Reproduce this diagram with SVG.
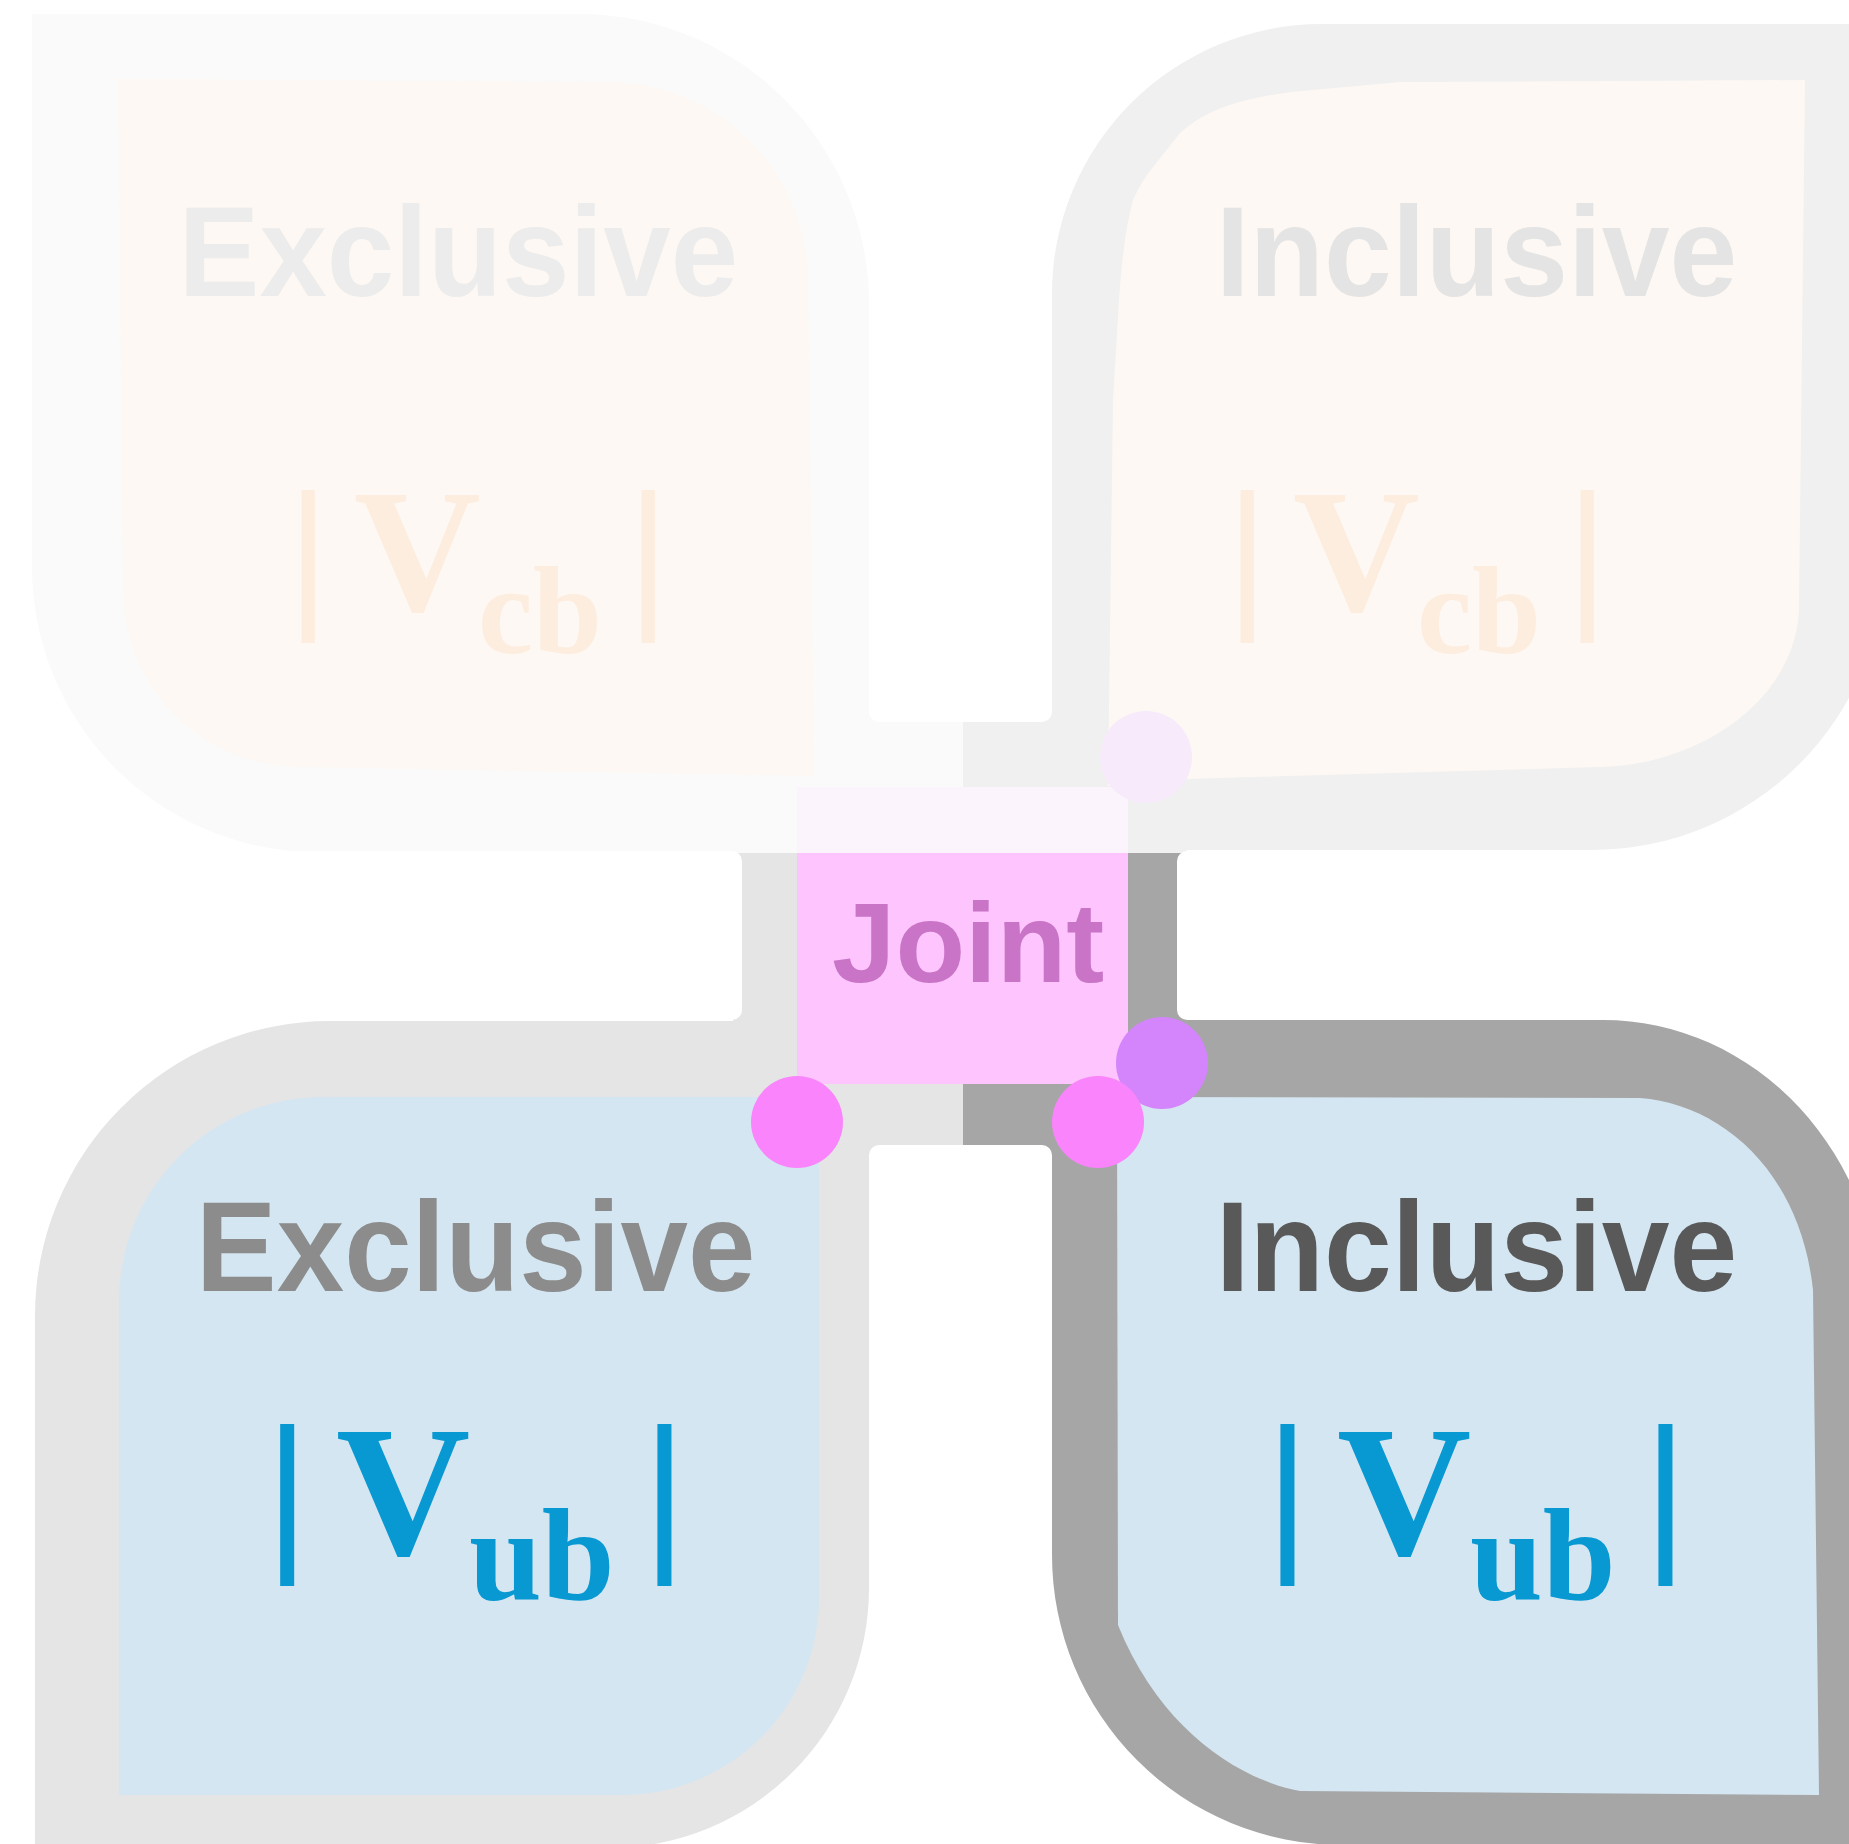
<svg xmlns="http://www.w3.org/2000/svg" width="1849" height="1844" viewBox="0 0 1849 1844">
<style>
.lbl{font-family:"Liberation Sans",Arial,sans-serif;font-weight:bold;font-size:128px}
.bar{font-family:"Liberation Sans",Arial,sans-serif;font-weight:normal}
.ser{font-family:"Liberation Serif","Times New Roman",serif;font-weight:bold}
.gap{fill:#ffffff}
.pt{stroke:none}
</style>
<rect x="0" y="0" width="1849" height="1844" fill="#ffffff"/>

<g id="node-exclusive-vcb">
<path d="M32,14 H579 A290,290 0 0 1 869,304 V852 H317 A285,285 0 0 1 32,567 Z" fill="#fafafa"/>
</g>
<g id="node-inclusive-vcb">
<path d="M1052,850 V294 A270,270 0 0 1 1322,24 H1885 V557 A293,293 0 0 1 1592,850 Z" fill="#f0f0f0"/>
</g>
<g id="node-exclusive-vub">
<path d="M35,1860 V1316 A295,295 0 0 1 330,1021 H869 V1588 A260,260 0 0 1 609,1848 V1860 Z" fill="#e5e5e5"/>
</g>
<g id="node-inclusive-vub">
<path d="M1052,1020 H1603 A278,300 0 0 1 1881,1320 V1860 H1342 V1845 A290,290 0 0 1 1052,1555 Z" fill="#a6a6a6"/>
</g>

<g id="connectors">
<rect x="733" y="712" width="230" height="141" fill="#fafafa"/>
<rect x="963" y="712" width="224" height="141" fill="#f0f0f0"/>
<rect x="733" y="853" width="230" height="302" fill="#e5e5e5"/>
<rect x="963" y="853" width="224" height="302" fill="#a6a6a6"/>
<rect class="gap" x="869" y="-50" width="183" height="772" rx="10"/>
<rect class="gap" x="-50" y="851" width="792" height="169" rx="10"/>
<rect class="gap" x="1177" y="851" width="720" height="169" rx="10"/>
<rect class="gap" x="869" y="1145" width="183" height="750" rx="10"/>
</g>

<g id="node-exclusive-vcb-content">
<path d="M118,79 L608,82 A200,200 0 0 1 808,282 L814,776 L300,767 A177,177 0 0 1 123,590 Z" fill="#fdf8f3"/>
<text class="lbl" x="178.5" y="295.5" textLength="559.6" lengthAdjust="spacingAndGlyphs" fill="#ececec">Exclusive</text>
<text fill="#fdeddf"><tspan class="bar" font-size="163.6" x="287" y="607.6">|</tspan><tspan class="ser" font-size="175.5" x="354" y="610.3">V</tspan><tspan class="ser" font-size="124" x="478" y="653">cb</tspan><tspan class="bar" font-size="163.6" x="627" y="607.6">|</tspan></text>
</g>

<g id="node-inclusive-vcb-content">
<path d="M1108,786 L1113,400 L1118,317 Q1122,240 1133,200 Q1142,180 1153,167 L1180,133 Q1205,110 1247,100 Q1280,92 1313,90 L1400,82 L1805,80 L1799,610 C1795,700 1700,765 1600,767 L1185,779 Z" fill="#fdf8f3"/>
<text class="lbl" x="1215.7" y="295.5" textLength="521.7" lengthAdjust="spacingAndGlyphs" fill="#e4e4e4">Inclusive</text>
<text fill="#fdeddf"><tspan class="bar" font-size="163.6" x="1226" y="607.6">|</tspan><tspan class="ser" font-size="175.5" x="1293" y="610.3">V</tspan><tspan class="ser" font-size="124" x="1417" y="653">cb</tspan><tspan class="bar" font-size="163.6" x="1566" y="607.6">|</tspan></text>
</g>

<g id="node-exclusive-vub-content">
<path d="M119,1795 V1301 A204,204 0 0 1 324,1097 H819 V1598 A197,197 0 0 1 622,1795 Z" fill="#d4e6f2"/>
<text class="lbl" x="195.8" y="1291" textLength="559.6" lengthAdjust="spacingAndGlyphs" fill="#8c8c8c">Exclusive</text>
<text fill="#0898d2"><tspan class="bar" font-size="172.7" x="264.8" y="1548.7">|</tspan><tspan class="ser" font-size="186" x="336" y="1553.5">V</tspan><tspan class="ser" font-size="131" x="469" y="1598.5">ub</tspan><tspan class="bar" font-size="172.7" x="642" y="1548.7">|</tspan></text>
</g>

<g id="node-inclusive-vub-content">
<path d="M1117,1097 L1640,1098 C1720,1104 1800,1170 1813,1290 L1819,1795 L1300,1791 C1240,1780 1160,1730 1118,1625 Z" fill="#d4e6f2"/>
<text class="lbl" x="1215.7" y="1291" textLength="521.7" lengthAdjust="spacingAndGlyphs" fill="#595959">Inclusive</text>
<text fill="#0898d2"><tspan class="bar" font-size="172.7" x="1265" y="1548.7">|</tspan><tspan class="ser" font-size="186" x="1337" y="1553.5">V</tspan><tspan class="ser" font-size="131" x="1470" y="1598.5">ub</tspan><tspan class="bar" font-size="172.7" x="1643" y="1548.7">|</tspan></text>
</g>

<g id="node-joint">
<rect x="797" y="787" width="331" height="66" fill="#fcf4fc"/>
<rect x="797" y="853" width="331" height="231" fill="#fdc4fd"/>
<text class="lbl" x="832" y="982" fill="#c974c6" style="font-size:114px">Joint</text>
</g>

<g id="points">
<circle class="pt" cx="1146" cy="757" r="46" fill="#f6eafb"/>
<circle class="pt" cx="1162" cy="1063" r="46" fill="#d485fb"/>
<circle class="pt" cx="797" cy="1122" r="46" fill="#f984fb"/>
<circle class="pt" cx="1098" cy="1122" r="46" fill="#f984fb"/>
</g>
</svg>
